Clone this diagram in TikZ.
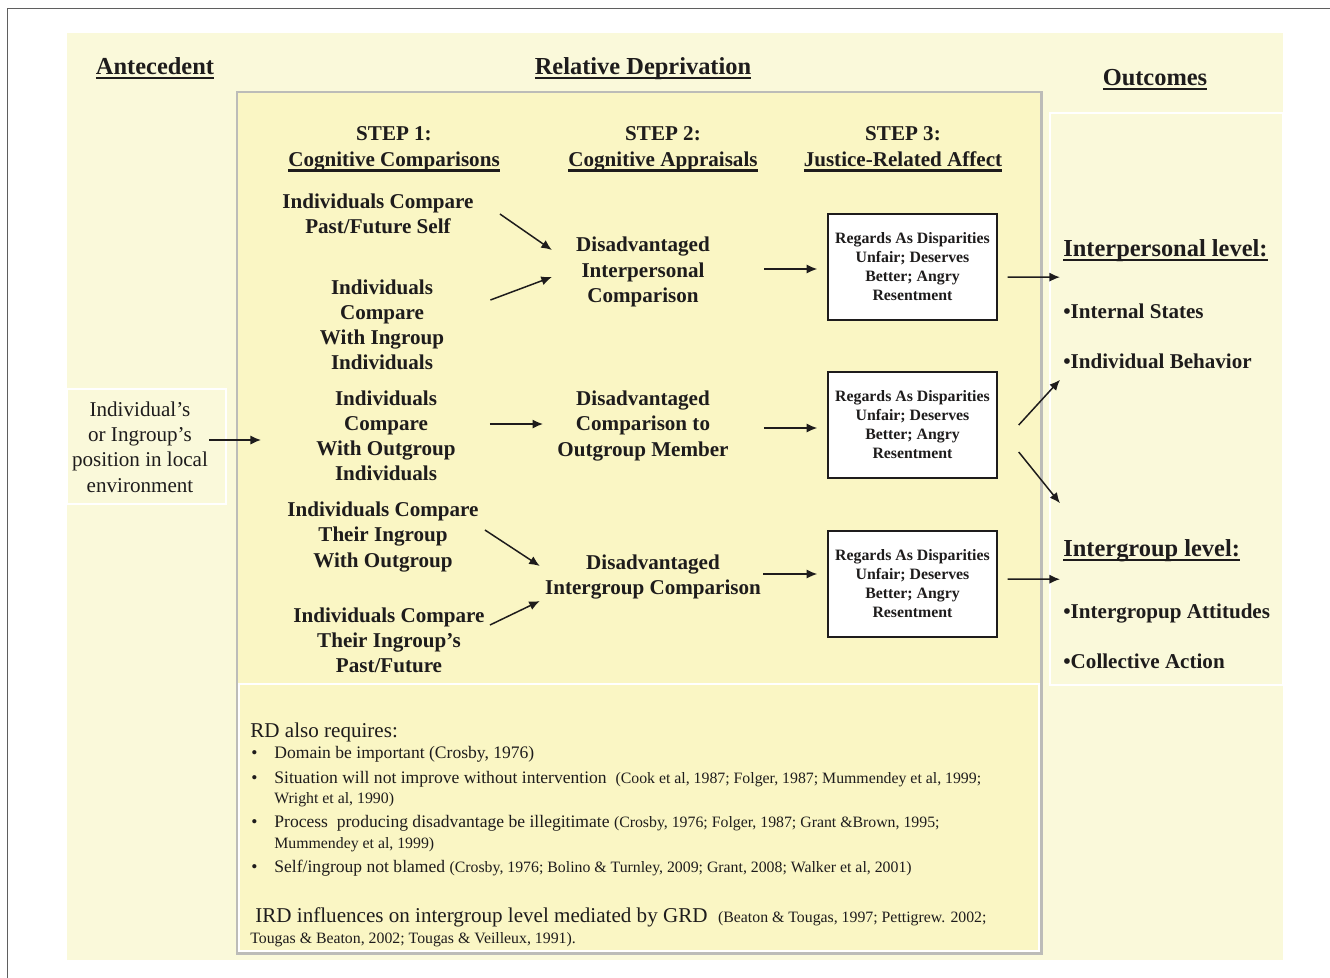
\documentclass[tikz,border=0pt]{standalone}
\usepackage{fontspec}
\setmainfont{Liberation Serif}
\usetikzlibrary{arrows.meta,calc}

\definecolor{ink}{RGB}{30,28,28}
\definecolor{creambg}{RGB}{250,249,218}
\definecolor{rdpanel}{RGB}{250,246,196}
\definecolor{panelrim}{RGB}{188,188,184}
\definecolor{framerim}{RGB}{95,95,95}

% heavy underline of the headings
\newcommand{\headul}[1]{\setbox0\hbox{#1}\rlap{\vrule height -1.6pt depth 3pt width \wd0}\box0}
\newcommand{\rdbullet}{\makebox[13.7pt][l]{\hspace{0.6pt}\textbullet}}
\newcommand{\rdcite}[1]{{\fontsize{9}{11}\selectfont #1}}

\begin{document}
\begin{tikzpicture}[x=0.02cm, y=-0.02cm,
	every node/.style={text=ink, inner sep=0pt},
	head/.style={font=\fontsize{13.9}{16}\selectfont\bfseries, anchor=base},
	stephead/.style={font=\fontsize{12}{15}\selectfont\bfseries, align=center},
	cmp/.style={font=\fontsize{12}{14.3}\selectfont\bfseries, align=center},
	affect/.style={draw=ink, line width=0.85pt, fill=white, minimum width=3.38cm, minimum height=2.12cm, align=center, font=\fontsize{9}{10.8}\selectfont\bfseries},
	lvl/.style={font=\fontsize{13.9}{16}\selectfont\bfseries, anchor=base west},
	outc/.style={font=\fontsize{12}{14}\selectfont\bfseries, anchor=base west},
	note/.style={font=\fontsize{10}{12}\selectfont, anchor=base west},
	conn/.style={draw=ink, line width=0.85pt, -{Latex[length=6pt,width=5.2pt]}}]
	\useasboundingbox (0,0) rectangle (1330,978);

	% page and panels
	\fill[creambg] (67,33) rectangle (1283,960);
	\draw[framerim, line width=1.1pt] (7.5,978) -- (7.5,8.5) -- (1330,8.5);
	\filldraw[fill=rdpanel, draw=panelrim, line width=1.7pt] (237,92) rectangle (1041,953);
	\draw[white, line width=0.6pt] (239,684) rectangle (1039,951);
	\draw[white, line width=0.6pt] (1050,113) rectangle (1283,685);
	\draw[white, line width=0.6pt] (67,389) rectangle (226,504);

	% column titles
	\node[head] (antehead) at (155,74) {\headul{Antecedent}};
	\node[head] (rdhead) at (643,74) {\headul{Relative Deprivation}};
	\node[head] (outhead) at (1155,85) {\headul{Outcomes}};

	\node[stephead] (step1) at (394,149) {STEP 1:\\\headul{Cognitive Comparisons}};
	\node[stephead] (step2) at (663,149) {STEP 2:\\\headul{Cognitive Appraisals}};
	\node[stephead] (step3) at (903,149) {STEP 3:\\\headul{Justice-Related Affect}};

	% antecedent
	\node[font=\fontsize{12}{14.4}\selectfont, align=center] (ante) at (140,447) {Individual’s\\or Ingroup’s\\position in local\\environment};

	% step 1
	\node[cmp] (a1) at (378,214) {Individuals Compare\\Past/Future Self};
	\node[cmp] (a2) at (382,325) {Individuals\\Compare\\With Ingroup\\Individuals};
	\node[cmp] (a3) at (386,436) {Individuals\\Compare\\With Outgroup\\Individuals};
	\node[cmp] (a4) at (383,537) {Individuals Compare\\Their Ingroup\\With Outgroup};
	\node[cmp] (a5) at (389,640) {Individuals Compare\\Their Ingroup’s\\Past/Future};

	% step 2
	\node[cmp] (b1) at (643,272) {Disadvantaged\\Interpersonal\\Comparison};
	\node[cmp] (b2) at (643,426) {Disadvantaged\\Comparison to\\Outgroup Member};
	\node[cmp] (b3) at (653,577) {Disadvantaged\\Intergroup Comparison};

	% step 3
	\node[affect] (c1) at (912.5,267) {Regards As Disparities\\Unfair; Deserves\\Better; Angry\\Resentment};
	\node[affect] (c2) at (912.5,425) {Regards As Disparities\\Unfair; Deserves\\Better; Angry\\Resentment};
	\node[affect] (c3) at (912.5,584) {Regards As Disparities\\Unfair; Deserves\\Better; Angry\\Resentment};

	% outcomes
	\node[lvl] (perlvl) at (1063,256) {\headul{Interpersonal level:}};
	\node[outc] (is) at (1063,318) {•Internal States};
	\node[outc] (ib) at (1063,368) {•Individual Behavior};
	\node[lvl] (grplvl) at (1063,556) {\headul{Intergroup level:}};
	\node[outc] (ga) at (1063,618) {•Intergropup Attitudes};
	\node[outc] (ca) at (1063,668) {•Collective Action};

	% arrows
	\draw[conn] ($(ante.east)+(1,-7)$) -- ($(a3.west)+(-55,4)$);
	\draw[conn] ($(a1.east)+(26,0)$) -- ($(b1.west)+(-24,-22)$);
	\draw[conn] ($(a2.east)+(46,-25)$) -- ($(b1.west)+(-24,5)$);
	\draw[conn] ($(a3.east)+(34,-12)$) -- ($(b2.west)+(-14,-2)$);
	\draw[conn] ($(a4.east)+(6,-7)$) -- ($(b3.west)+(-5,-11)$);
	\draw[conn] ($(a5.east)+(5,-15)$) -- ($(b3.west)+(-5,24)$);
	\draw[conn] ($(b1.east)+(54,-3)$) -- ($(c1.west)+(-10,2)$);
	\draw[conn] ($(b2.east)+(35,2)$) -- ($(c2.west)+(-10,3)$);
	\draw[conn] ($(b3.east)+(2,-3)$) -- ($(c3.west)+(-10,-10)$);
	\draw[conn] ($(c1.east)+(10,10)$) -- ($(perlvl.west)+(-3,27)$);
	\draw[conn] ($(c2.east)+(21,0)$) -- ($(ib.west)+(-3,19)$);
	\draw[conn] ($(c2.east)+(21,27)$) -- ($(grplvl.west)+(-3,-47)$);
	\draw[conn] ($(c3.east)+(10,-5)$) -- ($(grplvl.west)+(-3,29)$);

	% notes under the panel
	\node[note, font=\fontsize{12}{14}\selectfont] (rdreq) at (250,737) {RD also requires:};
	\node[note] (req1) at (250,758) {\rdbullet Domain be important (Crosby, 1976)};
	\node[note] (req2) at (250,783) {\rdbullet Situation will not improve without intervention\hspace{5pt}\rdcite{(Cook et al, 1987; Folger, 1987; Mummendey et al, 1999;}};
	\node[note] (req2b) at (274,803) {\rdcite{Wright et al, 1990)}};
	\node[note] (req3) at (250,827) {\rdbullet Process\hspace{5pt}producing disadvantage be illegitimate \rdcite{(Crosby, 1976; Folger, 1987; Grant \&Brown, 1995;}};
	\node[note] (req3b) at (274,848) {\rdcite{Mummendey et al, 1999)}};
	\node[note] (req4) at (250,872) {\rdbullet Self/ingroup not blamed \rdcite{(Crosby, 1976; Bolino \& Turnley, 2009; Grant, 2008; Walker et al, 2001)}};
	\node[note, font=\fontsize{12}{14}\selectfont] (ird) at (255,922) {IRD influences on intergroup level mediated by GRD\hspace{6pt}\rdcite{(Beaton \& Tougas, 1997; Pettigrew. 2002;}};
	\node[note] (irdb) at (250,943) {\rdcite{Tougas \& Beaton, 2002; Tougas \& Veilleux, 1991).}};
\end{tikzpicture}
\end{document}
